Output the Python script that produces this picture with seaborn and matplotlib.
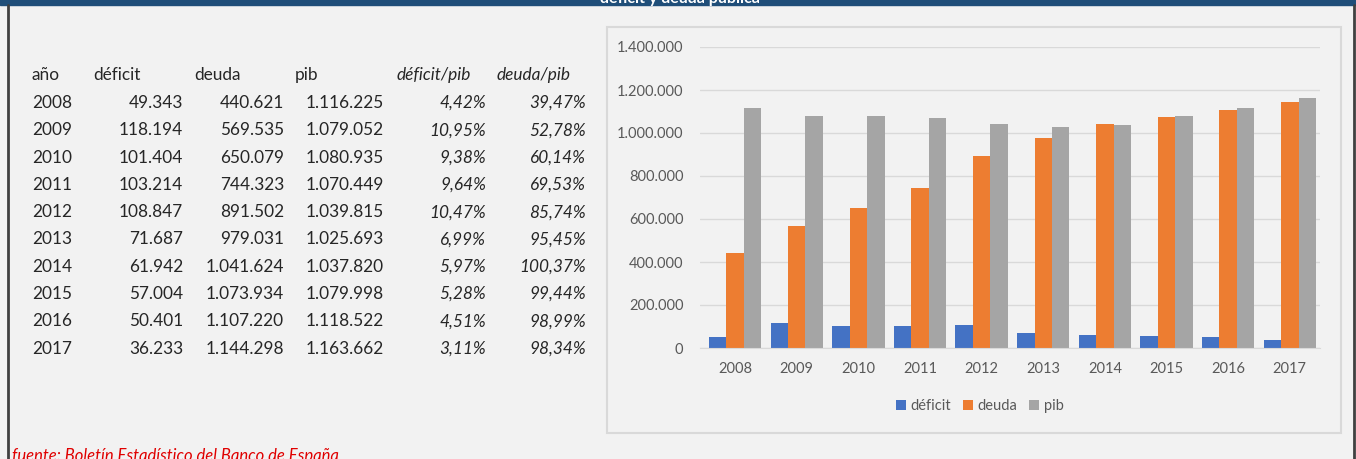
import pandas as pd
import seaborn as sns
import matplotlib.pyplot as plt
from matplotlib.patches import Rectangle
from matplotlib.ticker import FuncFormatter

anios = ["2008", "2009", "2010", "2011", "2012", "2013", "2014", "2015", "2016", "2017"]
deficit = [49343, 118194, 101404, 103214, 108847, 71687, 61942, 57004, 50401, 36233]
deuda = [440621, 569535, 650079, 744323, 891502, 979031, 1041624, 1073934, 1107220, 1144298]
pib = [1116225, 1079052, 1080935, 1070449, 1039815, 1025693, 1037820, 1079998, 1118522, 1163662]
deficit_pib = ["4,42%", "10,95%", "9,38%", "9,64%", "10,47%", "6,99%", "5,97%", "5,28%", "4,51%", "3,11%"]
deuda_pib = ["39,47%", "52,78%", "60,14%", "69,53%", "85,74%", "95,45%", "100,37%", "99,44%", "98,99%", "98,34%"]
series = ["déficit", "deuda", "pib"]
colores = ["#4472C4", "#ED7D31", "#A5A5A5"]

W, H = 1356, 459
fx = lambda x: x / W
fy = lambda y: 1 - y / H

def miles(v):
    return f"{int(v):,}".replace(",", ".")

sns.set_style("white")
plt.rcParams["font.family"] = ["Lato", "DejaVu Sans"]

fig = plt.figure(figsize=(W / 100, H / 100), dpi=100, facecolor="#F2F2F2")

# marco, banda superior
fig.patches.append(Rectangle((0, fy(5)), 1, 1, transform=fig.transFigure, color="#1F4E79", zorder=0))
fig.text(fx(680), fy(3), "déficit y deuda pública", color="white", fontsize=11.5, fontweight="bold",
         ha="center", va="baseline")
fig.add_artist(plt.Line2D([fx(8), fx(8)], [0, fy(5)], transform=fig.transFigure, color="#404040", lw=2))
fig.add_artist(plt.Line2D([fx(1354), fx(1354)], [0, fy(5)], transform=fig.transFigure, color="#404040", lw=2))

# tabla
fs = 12.4
fig.text(fx(32), fy(75), "año", fontsize=fs, va="center", ha="left")
cabeceras = [("déficit", 93, False), ("deuda", 194, False), ("pib", 295, False),
             ("déficit/pib", 397, True), ("deuda/pib", 497, True)]
for txt, x, it in cabeceras:
    fig.text(fx(x), fy(75), txt, fontsize=fs, va="center", ha="left", style="italic" if it else "normal")

for i, a in enumerate(anios):
    y = fy(103 + i * 27.3)
    fig.text(fx(32), y, a, fontsize=fs, va="center", ha="left")
    fig.text(fx(183), y, miles(deficit[i]), fontsize=fs, va="center", ha="right")
    fig.text(fx(284), y, miles(deuda[i]), fontsize=fs, va="center", ha="right")
    fig.text(fx(384), y, miles(pib[i]), fontsize=fs, va="center", ha="right")
    fig.text(fx(486), y, deficit_pib[i], fontsize=fs, va="center", ha="right", style="italic")
    fig.text(fx(586), y, deuda_pib[i], fontsize=fs, va="center", ha="right", style="italic")

fig.text(fx(12), fy(448), "fuente: Boletín Estadístico del Banco de España", color="#E00000",
         fontsize=12, style="italic", va="top", ha="left")

# caja del gráfico
fig.patches.append(Rectangle((fx(607), fy(433)), fx(1341) - fx(607), fy(27) - fy(433),
                             transform=fig.transFigure, facecolor="#F2F2F2", edgecolor="#D9D9D9",
                             lw=1.5, zorder=-1))

df = pd.DataFrame({
    "año": anios * 3,
    "serie": [s for s in series for _ in anios],
    "valor": deficit + deuda + pib,
})

ax = fig.add_axes([fx(700), fy(348), fx(1320) - fx(700), fy(47) - fy(348)])
ax.set_zorder(2)
ax.patch.set_alpha(0)
sns.barplot(data=df, x="año", y="valor", hue="serie", palette=colores, width=0.85,
            saturation=1, linewidth=0, ax=ax, legend=True)
ax.set_ylim(0, 1400000)
ax.set_yticks(range(0, 1400001, 200000))
ax.yaxis.set_major_formatter(FuncFormatter(lambda v, p: miles(v)))
ax.set_xlim(-0.57, 9.49)
ax.grid(axis="y", color="#D9D9D9", lw=1)
ax.set_axisbelow(True)
for s in ["top", "right", "left"]:
    ax.spines[s].set_visible(False)
ax.spines["bottom"].set_color("#D9D9D9")
ax.tick_params(axis="both", length=0, labelsize=10.5, colors="#595959", pad=10)
ax.tick_params(axis="y", pad=12)
ax.set_xlabel("")
ax.set_ylabel("")

h, l = ax.get_legend_handles_labels()
ax.get_legend().remove()
fig.legend(h, l, loc="center", bbox_to_anchor=(fx(980), fy(406)), ncol=3, frameon=False,
           fontsize=10.5, handlelength=0.7, handleheight=0.7, handletextpad=0.3, columnspacing=0.8,
           labelcolor="#595959")

fig.savefig("out.png", dpi=100, facecolor=fig.get_facecolor())
